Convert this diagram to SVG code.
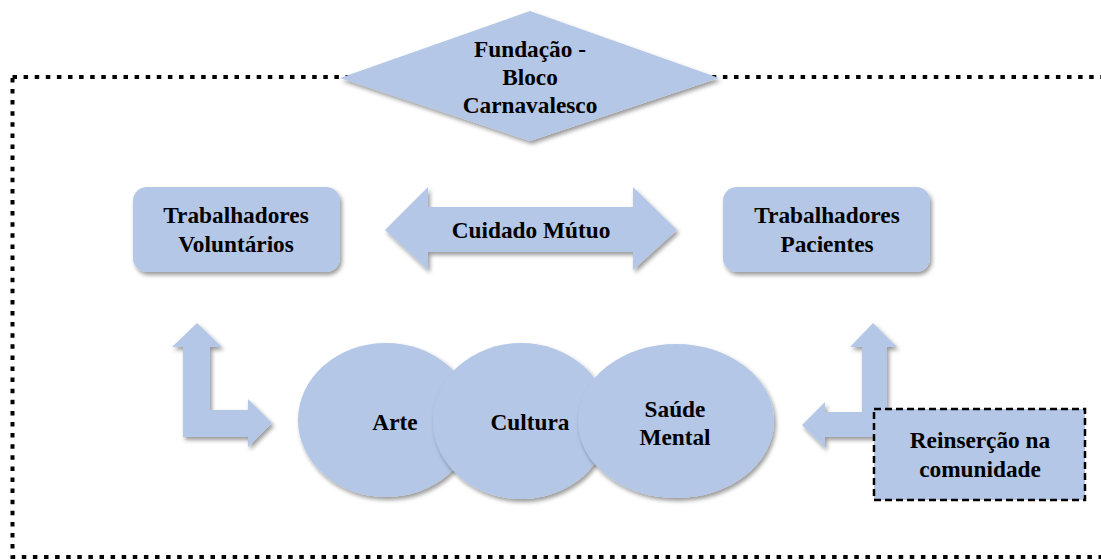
<svg xmlns="http://www.w3.org/2000/svg" width="1101" height="560" viewBox="0 0 1101 560">
<style>
.shape{fill:#B4C7E7;filter:url(#sh);}
.t{font-family:"Liberation Serif","Times New Roman",serif;font-weight:bold;font-size:23.3px;fill:#000;text-anchor:middle;}
.frame{fill:none;stroke:#000;stroke-width:4;stroke-dasharray:4.5 6.6;}
.dash{fill:#B4C7E7;stroke:#000;stroke-width:2.5;stroke-dasharray:7 4;}
</style>
<defs>
<filter id="sh" x="-20%" y="-20%" width="140%" height="150%">
<feDropShadow dx="2" dy="3" stdDeviation="2.2" flood-color="#000" flood-opacity="0.4"/>
</filter>
</defs>
<rect width="1101" height="560" fill="#fff"/>
<g id="frame">
<rect class="frame" x="12.5" y="77" width="1110" height="480"/>
</g>
<g id="connectors">
<polygon class="shape" points="385,230 428,187 428,207 633,207 633,187 677,230 633,270 633,252 428,252 428,270"/>
<text class="t" x="531" y="238">Cuidado Mútuo</text>
<polygon class="shape" points="197,323 222,347 210,347 210,410 248,410 248,399 272,423 248,447 248,437 183,437 183,347 172,347"/>
<polygon class="shape" points="873,323 897,347 887,347 887,437 825,437 825,448 802,425 825,402 825,412 862,412 862,347 850,347"/>
</g>
<g id="fundacao">
<polygon class="shape" points="530,11 719,78 530,141 340,78"/>
<text class="t" x="530" y="57">Fundação -</text>
<text class="t" x="530" y="85">Bloco</text>
<text class="t" x="530" y="113">Carnavalesco</text>
</g>
<g id="voluntarios">
<rect class="shape" x="133" y="187" width="207" height="85" rx="14"/>
<text class="t" x="236" y="223">Trabalhadores</text>
<text class="t" x="236" y="252">Voluntários</text>
</g>
<g id="pacientes">
<rect class="shape" x="723" y="187" width="207" height="85" rx="14"/>
<text class="t" x="827" y="223">Trabalhadores</text>
<text class="t" x="827" y="252">Pacientes</text>
</g>
<g id="arte">
<ellipse class="shape" cx="386" cy="420" rx="88" ry="77"/>
<text class="t" x="395" y="430">Arte</text>
</g>
<g id="cultura">
<ellipse class="shape" cx="521" cy="421" rx="88" ry="78"/>
<text class="t" x="530" y="430">Cultura</text>
</g>
<g id="saude">
<ellipse class="shape" cx="676" cy="421" rx="98" ry="77"/>
<text class="t" x="675" y="417">Saúde</text>
<text class="t" x="675" y="445">Mental</text>
</g>
<g id="reinsercao">
<rect class="dash" x="874" y="409" width="211" height="91"/>
<text class="t" x="980" y="448">Reinserção na</text>
<text class="t" x="980" y="477">comunidade</text>
</g>
</svg>
